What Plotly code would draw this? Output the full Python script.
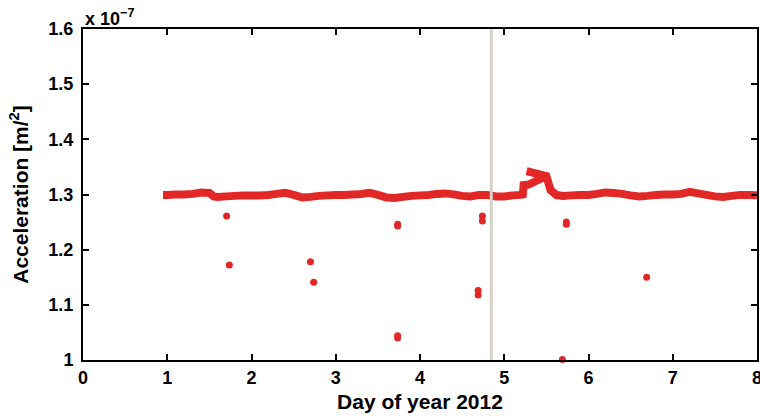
import plotly.graph_objects as go

# Smoothed acceleration time series (units of 1e-7)
day = [0.95, 1.0, 1.1, 1.2, 1.3, 1.4, 1.5, 1.55, 1.6, 1.7, 1.8, 1.9, 2.0, 2.1, 2.2,
       2.3, 2.4, 2.5, 2.6, 2.7, 2.8, 2.9, 3.0, 3.1, 3.2, 3.3, 3.4, 3.5, 3.6, 3.7,
       3.8, 3.9, 4.0, 4.1, 4.2, 4.3, 4.4, 4.5, 4.6, 4.7, 4.8, 4.9, 5.0, 5.1, 5.2,
       5.22, 5.23, 5.29, 5.50, 5.265, 5.50, 5.55, 5.62,
       5.7, 5.8, 5.9, 6.0, 6.1, 6.2, 6.3, 6.4, 6.5, 6.6, 6.7, 6.8, 6.9, 7.0,
       7.1, 7.2, 7.3, 7.4, 7.5, 7.6, 7.7, 7.8, 7.9, 8.0]
accel = [1.2993, 1.2993, 1.3002, 1.3002, 1.3011, 1.3034, 1.3029, 1.2966, 1.2957, 1.2966,
         1.2975, 1.2984, 1.2984, 1.2984, 1.2993, 1.3011, 1.3029, 1.2993, 1.2947, 1.2957,
         1.2975, 1.2984, 1.2993, 1.2993, 1.3002, 1.3011, 1.3029, 1.2993, 1.2947, 1.2938,
         1.2957, 1.2975, 1.2984, 1.2993, 1.3011, 1.3020, 1.3002, 1.2975, 1.2966, 1.2993,
         1.2993, 1.2966, 1.2966, 1.2984, 1.2993,
         1.3000, 1.3170, 1.3180, 1.3335, 1.3425, 1.3335, 1.3080, 1.2990,
         1.2975, 1.2984, 1.2993, 1.2993, 1.3011, 1.3038, 1.3029, 1.3011, 1.2984, 1.2966,
         1.2975, 1.2993, 1.3002, 1.3002, 1.3011, 1.3047, 1.3020, 1.2993, 1.2966, 1.2957,
         1.2975, 1.2993, 1.2993, 1.2984]

# Isolated outlier samples (units of 1e-7)
out_day = [1.705, 1.737, 2.70, 2.738, 3.735, 3.735, 3.735, 3.735,
           4.74, 4.74, 4.69, 4.69, 5.737, 5.737, 6.69, 5.69]
out_acc = [1.261, 1.172, 1.178, 1.141, 1.246, 1.243, 1.044, 1.040,
           1.261, 1.252, 1.126, 1.118, 1.250, 1.246, 1.150, 1.001]

# Event marker
event_day = 4.846
y_range = [1.0, 1.6]

x_ticks = [0, 1, 2, 3, 4, 5, 6, 7, 8]
y_ticks = [1.0, 1.1, 1.2, 1.3, 1.4, 1.5, 1.6]
y_ticktext = ["1", "1.1", "1.2", "1.3", "1.4", "1.5", "1.6"]

RED = "rgb(226,40,38)"
GRAY = "rgb(214,210,202)"
FONT = "Liberation Sans, Arial, sans-serif"

fig = go.Figure()
fig.add_trace(go.Scatter(
    x=day, y=accel, mode="lines",
    line=dict(color=RED, width=8, shape="linear", simplify=False),
    hoverinfo="skip", showlegend=False))
fig.add_trace(go.Scatter(
    x=out_day, y=out_acc, mode="markers",
    marker=dict(color=RED, size=7, line=dict(width=0)),
    cliponaxis=False, showlegend=False))
fig.add_trace(go.Scatter(
    x=[event_day, event_day], y=y_range, mode="lines",
    line=dict(color=GRAY, width=3), showlegend=False))

axis_common = dict(
    showgrid=False, zeroline=False, showline=True, linecolor="black", linewidth=2,
    mirror="ticks", ticks="inside", ticklen=6, tickwidth=2, tickcolor="black",
    ticklabeloverflow="allow", automargin=False,
    tickfont=dict(family=FONT, size=18, color="black", weight="bold"),
)

fig.update_layout(
    width=760, height=420,
    margin=dict(l=83, r=3, t=29, b=60),
    paper_bgcolor="white", plot_bgcolor="white",
    font=dict(family=FONT, color="black"),
    xaxis=dict(range=[0, 8], tickvals=x_ticks, **axis_common,
               title=dict(text="Day of year 2012", standoff=8,
                          font=dict(family=FONT, size=21, color="black", weight="bold"))),
    yaxis=dict(range=y_range, tickvals=y_ticks, ticktext=y_ticktext, **axis_common,
               ticklabelstandoff=4,
               title=dict(text="Acceleration [m/<sup>2</sup>]", standoff=14,
                          font=dict(family=FONT, size=21, color="black", weight="bold"))),
    annotations=[dict(
        text="x 10<sup>\u22127</sup>", xref="paper", yref="paper", x=0, y=1,
        xanchor="left", yanchor="bottom", showarrow=False, yshift=-2,
        font=dict(family=FONT, size=18, color="black", weight="bold"))],
)

fig.write_html("out.html")
